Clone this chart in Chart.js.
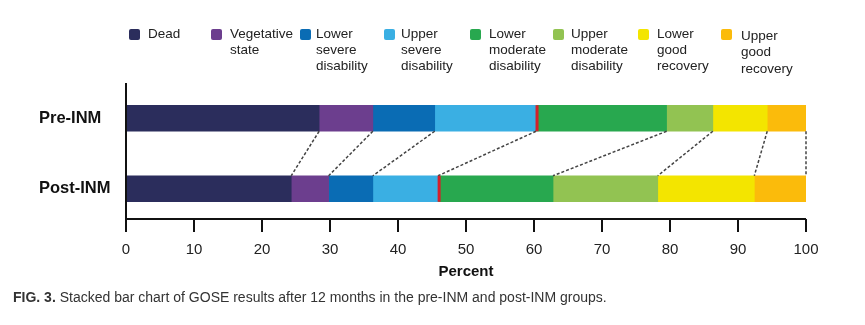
<!DOCTYPE html>
<html>
<head>
<meta charset="utf-8">
<script src="https://cdn.jsdelivr.net/npm/chart.js@4/dist/chart.umd.min.js"></script>
<style>
  html, body { margin: 0; padding: 0; background: #fff; }
  #wrap { position: relative; width: 865px; height: 325px; overflow: hidden; font-family: "Liberation Sans", Arial, sans-serif; }
  canvas { position: absolute; left: 0; top: 0; }
  .lg-box { position: absolute; width: 11px; height: 11px; border-radius: 2px; }
  .lg-txt { position: absolute; font-size: 13.5px; line-height: 16.3px; color: #222; white-space: nowrap; }
  #caption { position: absolute; left: 13px; top: 289px; font-size: 14px; line-height: 16px; color: #333; white-space: nowrap; }
</style>
</head>
<body>
<div id="wrap">
  <canvas id="c" width="865" height="325"></canvas>
  <div id="legend"></div>
  <div id="caption"><b>FIG. 3.</b> Stacked bar chart of GOSE results after 12 months in the pre-INM and post-INM groups.</div>
</div>
<script>
// ---- data ----
const categories = ['Pre-INM', 'Post-INM'];
const outcomeLabels = [
  ['Dead'],
  ['Vegetative', 'state'],
  ['Lower', 'severe', 'disability'],
  ['Upper', 'severe', 'disability'],
  ['Lower', 'moderate', 'disability'],
  ['Upper', 'moderate', 'disability'],
  ['Lower', 'good', 'recovery'],
  ['Upper', 'good', 'recovery']
];
const preINM  = [28.4, 7.9, 9.1, 14.9, 19.2, 6.8, 8.0, 5.7];
const postINM = [24.3, 5.5, 6.5, 9.6, 16.9, 15.4, 14.2, 7.6];
const xTickValues = [0, 10, 20, 30, 40, 50, 60, 70, 80, 90, 100];
const axisTitle = 'Percent';

// ---- styles ----
const colors = ['#2b2d5c', '#6c3e8e', '#0a6cb4', '#3aafe3', '#28a84f', '#92c352', '#f3e500', '#fbbb0b'];
const legendBoxX = [129, 211, 300, 384, 470, 553, 638, 721];
const legendTxtX = [148, 230, 316, 401, 489, 571, 657, 741];
const legendTxtTop = [25.5, 25.5, 25.5, 25.5, 25.5, 25.5, 25.5, 28];
const markerIndex = 3; // red marker after this segment

// legend (HTML)
const lg = document.getElementById('legend');
outcomeLabels.forEach((lines, i) => {
  const b = document.createElement('div');
  b.className = 'lg-box';
  b.style.left = legendBoxX[i] + 'px';
  b.style.top = '29px';
  b.style.background = colors[i];
  lg.appendChild(b);
  const t = document.createElement('div');
  t.className = 'lg-txt';
  t.style.left = legendTxtX[i] + 'px';
  t.style.top = legendTxtTop[i] + 'px';
  t.innerHTML = lines.join('<br>');
  lg.appendChild(t);
});

const datasets = outcomeLabels.map((lines, i) => ({
  label: lines.join(' '),
  data: [preINM[i], postINM[i]],
  backgroundColor: colors[i],
  borderWidth: 0,
  barThickness: 26
}));

const overlay = {
  id: 'overlay',
  afterDatasetsDraw(chart) {
    const ctx = chart.ctx;
    const ca = chart.chartArea;
    const xs = chart.scales.x;
    const n = chart.data.datasets.length;
    ctx.save();
    // dashed connectors
    ctx.strokeStyle = '#444';
    ctx.lineWidth = 1.5;
    ctx.setLineDash([3, 2]);
    for (let d = 0; d < n; d++) {
      const meta = chart.getDatasetMeta(d);
      const a = meta.data[0], b = meta.data[1];
      ctx.beginPath();
      ctx.moveTo(a.x, a.y + a.height / 2);
      ctx.lineTo(b.x, b.y - b.height / 2);
      ctx.stroke();
    }
    ctx.setLineDash([]);
    // red markers
    const mm = chart.getDatasetMeta(markerIndex);
    ctx.fillStyle = '#d4202a';
    mm.data.forEach(el => {
      ctx.fillRect(el.x - 0.5, el.y - el.height / 2, 3, el.height);
    });
    // axes
    const axisY = ca.bottom - 5;
    ctx.strokeStyle = '#111';
    ctx.lineWidth = 2;
    ctx.beginPath();
    ctx.moveTo(ca.left, ca.top);
    ctx.lineTo(ca.left, axisY);
    ctx.lineTo(ca.right, axisY);
    ctx.stroke();
    xTickValues.forEach(v => {
      const px = xs.getPixelForValue(v);
      ctx.beginPath();
      ctx.moveTo(px, axisY);
      ctx.lineTo(px, axisY + 13);
      ctx.stroke();
    });
    ctx.restore();
  }
};

new Chart(document.getElementById('c'), {
  type: 'bar',
  data: { labels: categories, datasets },
  options: {
    indexAxis: 'y',
    responsive: false,
    animation: false,
    layout: { padding: { left: 39, right: 59, top: 83, bottom: 44 } },
    plugins: { legend: { display: false }, tooltip: { enabled: false } },
    scales: {
      x: {
        stacked: true,
        min: 0, max: 100,
        afterBuildTicks: s => { s.ticks = xTickValues.map(v => ({ value: v })); },
        afterFit: s => { s.height = 57; },
        grid: { display: false, drawTicks: false },
        border: { display: false },
        ticks: { padding: 17, color: '#222', font: { family: 'Liberation Sans', size: 15 } },
        title: { display: true, text: axisTitle, color: '#111', padding: 0,
                 font: { family: 'Liberation Sans', size: 15, weight: 'bold' } }
      },
      y: {
        stacked: true,
        afterFit: s => { s.width = 87; },
        grid: { display: false, drawTicks: false },
        border: { display: false },
        ticks: { crossAlign: 'far', color: '#111', font: { family: 'Liberation Sans', size: 16.5, weight: 'bold' } }
      }
    }
  },
  plugins: [overlay]
});
</script>
</body>
</html>
